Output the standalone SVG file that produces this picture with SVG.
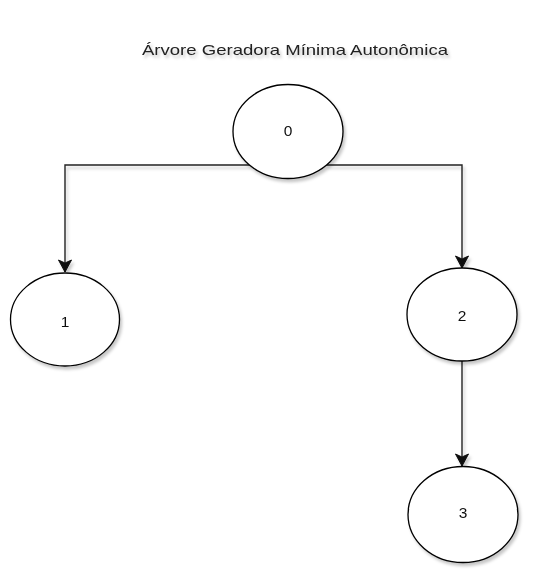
<svg xmlns="http://www.w3.org/2000/svg" width="541" height="585" viewBox="0 0 541 585">
  <defs>
    <filter id="shadow" x="-20%" y="-20%" width="140%" height="140%">
      <feDropShadow dx="2" dy="3" stdDeviation="1.5" flood-color="#000" flood-opacity="0.22"/>
    </filter>
    <marker id="arrow" markerUnits="userSpaceOnUse" markerWidth="18" markerHeight="18" viewBox="-15 -9 18 18" refX="0" refY="0" orient="auto">
      <path d="M0,0 L-12,-6.5 L-9,0 L-12,6.5 Z" fill="#111" stroke="#111" stroke-width="1" stroke-linejoin="miter"/>
    </marker>
    <style>
      .node ellipse { fill: #ffffff; stroke: #000000; stroke-width: 1.3; }
      .label { font-family: "Liberation Sans", Arial, sans-serif; font-size: 15.5px; fill: #111; text-anchor: middle; }
      .title { font-family: "Liberation Sans", Arial, sans-serif; font-size: 15px; fill: #222; text-anchor: middle; }
      .edge { fill: none; stroke: #222; stroke-width: 1.4; }
    </style>
  </defs>
  <rect width="541" height="585" fill="#ffffff"/>

  <text class="title" x="295" y="55" textLength="306" lengthAdjust="spacingAndGlyphs" filter="url(#shadow)">Árvore Geradora Mínima Autonômica</text>

  <g id="connectors" filter="url(#shadow)">
    <path class="edge" d="M250,165 L65,165 L65,272" marker-end="url(#arrow)"/>
    <path class="edge" d="M326,165 L462,165 L462,268" marker-end="url(#arrow)"/>
    <path class="edge" d="M462,361 L462,466" marker-end="url(#arrow)"/>
  </g>

  <g id="node0" class="node" filter="url(#shadow)">
    <ellipse cx="288" cy="131.5" rx="55" ry="47"/>
    <text class="label" x="288" y="135.7">0</text>
  </g>
  <g id="node1" class="node" filter="url(#shadow)">
    <ellipse cx="65" cy="319.5" rx="54.5" ry="46.5"/>
    <text class="label" x="65" y="327.3">1</text>
  </g>
  <g id="node2" class="node" filter="url(#shadow)">
    <ellipse cx="462" cy="314.5" rx="55" ry="46.5"/>
    <text class="label" x="462" y="321.3">2</text>
  </g>
  <g id="node3" class="node" filter="url(#shadow)">
    <ellipse cx="463" cy="514.5" rx="55" ry="48"/>
    <text class="label" x="463" y="517.6">3</text>
  </g>
</svg>
